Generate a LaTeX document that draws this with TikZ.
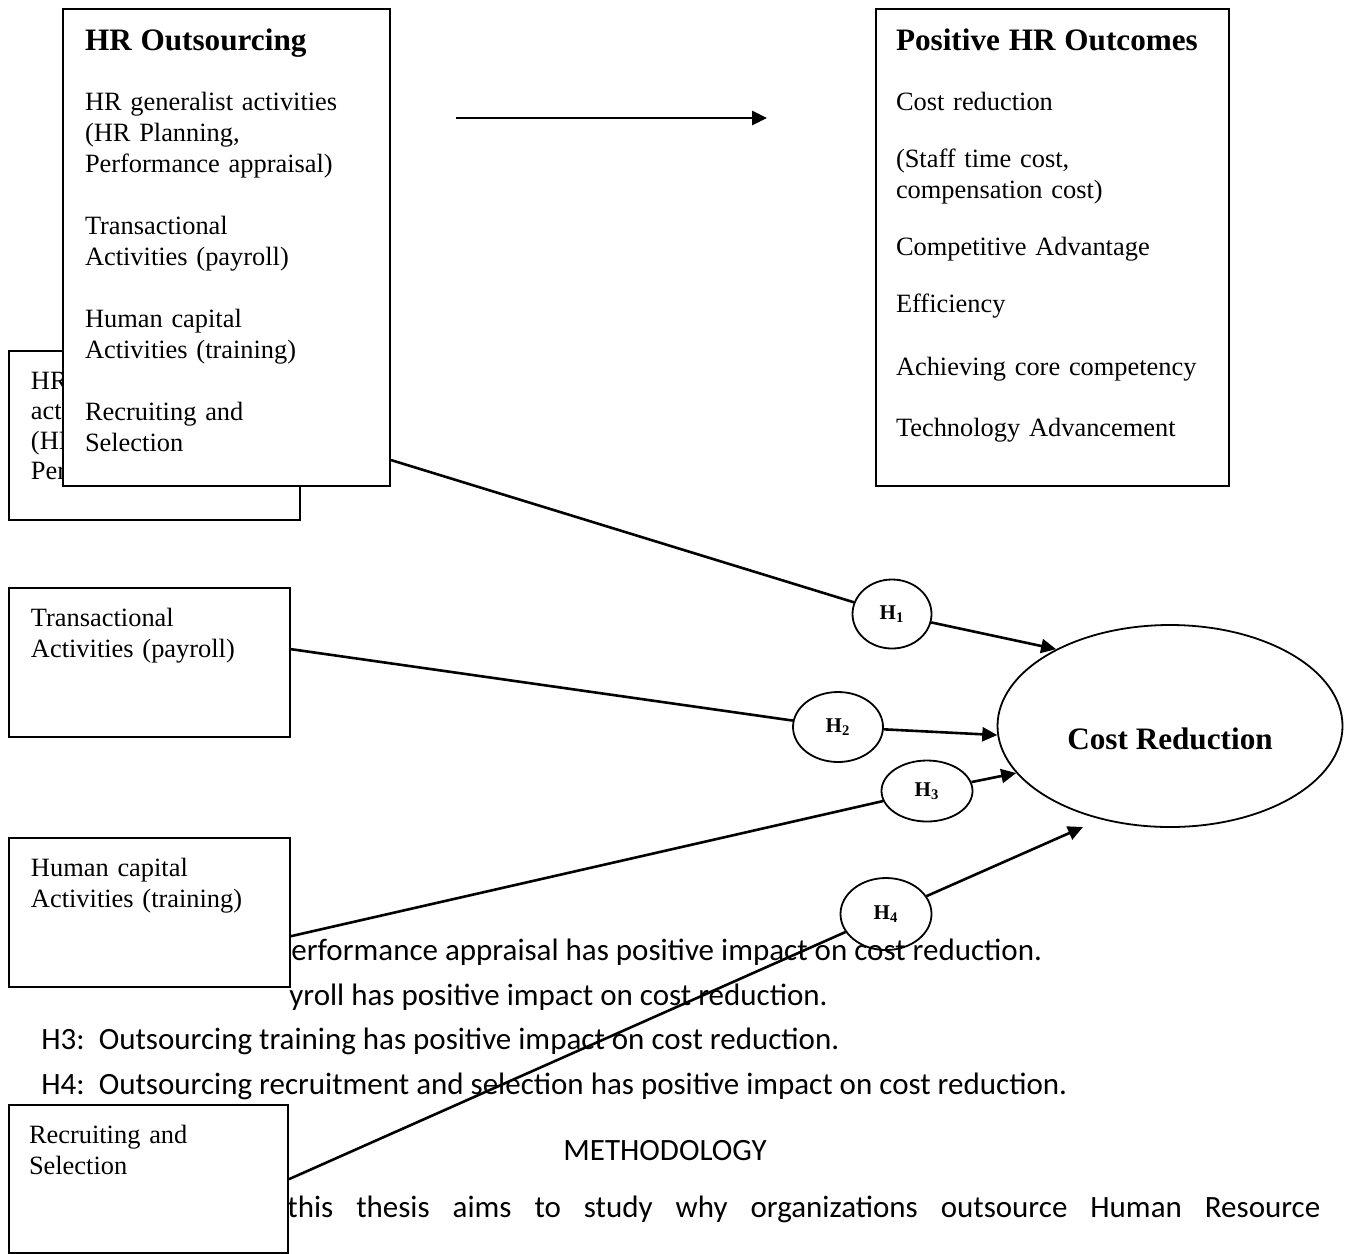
\documentclass[tikz,border=0pt]{standalone}
\usepackage{fontspec}
\setmainfont{Liberation Serif}
\newfontfamily\bodysans{Carlito}
\usetikzlibrary{positioning, arrows.meta, shapes.geometric}

\begin{document}
\begin{tikzpicture}[
  x=0.5pt, y=-0.5pt,
  panel/.style={
    draw, line width=1pt, fill=white, anchor=north west, align=left,
    inner xsep=11pt, inner ysep=10pt,
    font=\fontsize{13.2}{15.5}\selectfont
  },
  hyp/.style={
    ellipse, draw, line width=0.9pt, inner sep=0pt,
    font=\fontsize{10.5}{12}\selectfont\bfseries
  },
  link/.style={line width=1.3pt},
  arr/.style={-{Triangle[length=7.5pt, width=7pt]}, line width=1.3pt},
  note/.style={anchor=base west, inner sep=0pt, font=\bodysans\fontsize{15.5}{18}\selectfont}
]
  \useasboundingbox (0,0) rectangle (1347,1253);

  % Hypotheses text (partly under the boxes)
  \node[note] (n1) at (291,960) {erformance appraisal has positive impact on cost reduction.};
  \node[note] (n2) at (289,1005) {yroll has positive impact on cost reduction.};
  \node[note] (n3) at (41,1049) {H3:\ \ Outsourcing training has positive impact on cost reduction.};
  \node[note] (n4) at (41,1094) {H4:\ \ Outsourcing recruitment and selection has positive impact on cost reduction.};
  \node[note, anchor=base] (meth) at (665,1160) {METHODOLOGY};
  \node[note] (para) at (287,1217) {\makebox[516.5pt][s]{this thesis aims to study why organizations outsource Human Resource}};

  % Boxes
  \node[panel, text width=123.5pt, text depth=55.5pt, font=\fontsize{13.2}{15}\selectfont] (gen) at (8,350) {HR generalist\\activities\\(HR Planning,\\\mbox{Performance appraisal)}};
  \node[panel, text width=141.5pt, text depth=207.7pt] (hro) at (62,8) {%
    {\fontsize{15.6}{19}\selectfont\bfseries HR~Outsourcing}\\[14.5pt]
    HR generalist activities\\
    (HR Planning,\\
    Performance appraisal)\\[15.5pt]
    Transactional\\
    Activities (payroll)\\[15.5pt]
    Human capital\\
    Activities (training)\\[15.5pt]
    Recruiting and\\
    Selection};
  \node[panel, inner xsep=10pt, text width=156.5pt, text depth=207.7pt] (pos) at (875,8) {%
    {\fontsize{15.6}{19}\selectfont\bfseries Positive~HR~Outcomes}\\[14.5pt]
    Cost reduction\\[13pt]
    (Staff time cost,\\
    compensation cost)\\[13pt]
    Competitive Advantage\\[13pt]
    Efficiency\\[16pt]
    Achieving core competency\\[15pt]
    Technology Advancement};
  \node[panel, text width=118.5pt, text depth=45.5pt] (trans) at (8,587) {Transactional\\Activities (payroll)};
  \node[panel, text width=118.5pt, text depth=45.5pt] (hcap) at (8,837) {Human capital\\Activities (training)};
  \node[panel, inner xsep=10pt, text width=119.5pt, text depth=45pt] (recr) at (8,1104) {Recruiting and\\Selection};

  % Outcome and hypotheses
  \node[ellipse, draw, line width=0.9pt, minimum width=172.5pt, minimum height=101pt, inner sep=0pt,
        text height=23pt, text depth=0pt, font=\fontsize{15.6}{18}\selectfont\bfseries] (cost) at (1170,726) {Cost Reduction};
  \node[hyp, minimum width=39.5pt, minimum height=34.5pt] (h1) at (892,614) {H\textsubscript{1}};
  \node[hyp, minimum width=45pt, minimum height=35pt] (h2) at (838,727) {H\textsubscript{2}};
  \node[hyp, minimum width=45.5pt, minimum height=30.5pt] (h3) at (927,791) {H\textsubscript{3}};
  \node[hyp, minimum width=45.5pt, minimum height=36pt] (h4) at (886,914) {H\textsubscript{4}};
  \coordinate (t4) at (1083,827);

  % Connectors
  \draw[arr, shorten <=32.5pt, shorten >=54pt] ([yshift=-55pt]hro.north east) -- ([yshift=-55pt]pos.north west);
  \draw[link] ([yshift=13.5pt]hro.south east) -- (h1);
  \draw[arr] (h1) -- (cost.146);
  \draw[link] ([yshift=6.75pt]trans.east) -- (h2);
  \draw[arr] (h2) -- (cost.183);
  \draw[link] ([yshift=-11.75pt]hcap.east) -- (h3);
  \draw[arr] (h3) -- (cost.197);
  \draw[link] (recr.east) -- (h4);
  \draw[arr] (h4) -- (t4);
\end{tikzpicture}
\end{document}
